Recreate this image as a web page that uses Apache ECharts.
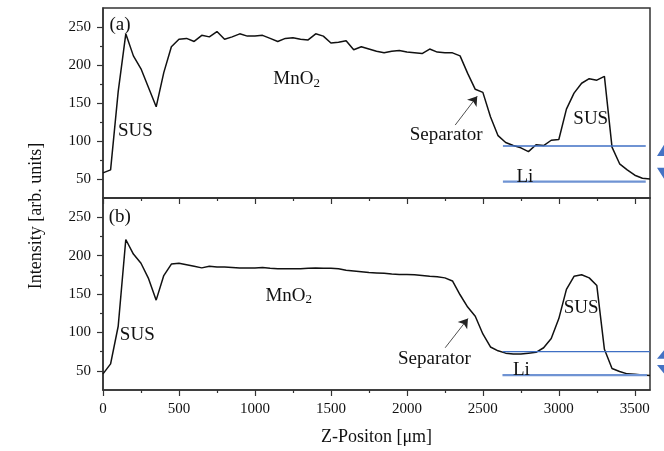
<!DOCTYPE html>
<html>
<head>
<meta charset="utf-8">
<script src="https://cdn.jsdelivr.net/npm/echarts@6/dist/echarts.min.js"></script>
<style>
  html, body { margin: 0; padding: 0; background: #fff; }
  #main { width: 664px; height: 451px; }
</style>
</head>
<body>
<div id="main"></div>
<script>
// depth positions (um)
var zPos = [0, 50, 100, 150, 200, 250, 300, 350, 400, 450, 500, 550, 600, 650, 700, 750, 800, 850, 900, 950,
  1000, 1050, 1100, 1150, 1200, 1250, 1300, 1350, 1400, 1450, 1500, 1550, 1600, 1650, 1700, 1750, 1800, 1850, 1900, 1950,
  2000, 2050, 2100, 2150, 2200, 2250, 2300, 2350, 2400, 2450, 2500, 2550, 2600, 2650, 2700, 2750, 2800, 2850, 2900, 2950,
  3000, 3050, 3100, 3150, 3200, 3250, 3300, 3350, 3400, 3450, 3500, 3550, 3600];

// panel (a)
var intensityA = [58, 62, 165, 241, 212, 195, 170, 145, 190, 224, 234, 235, 231, 239, 237, 244, 234, 237, 241, 238,
  238, 239, 235, 231, 235, 236, 234, 233, 241, 238, 229, 230, 232, 220, 224, 221, 218, 216, 218, 219,
  217, 216, 215, 221, 217, 216, 216, 212, 189, 168, 164, 132, 107, 98, 94, 91, 86, 95, 94, 101,
  102, 142, 163, 176, 182, 180, 185, 92, 70, 62, 55, 51, 50];

// panel (b)
var intensityB = [46, 59, 108, 221, 202, 190, 170, 142, 174, 189, 190, 188, 186, 184, 186, 185, 185, 184.5, 184, 184,
  184, 184.5, 183.5, 183, 183, 183, 183, 183.5, 184, 183.5, 183.5, 183, 181, 180, 179, 178, 177.5, 177, 176, 175.5,
  175.5, 175, 174, 173, 172.5, 171, 167, 149, 133, 121, 98, 81, 76, 73, 72, 72, 73, 74, 80, 92,
  118, 156, 173, 175, 171, 161, 78, 53, 49, 46, 45.5, 44.5, 44];

var xMajor = [0, 500, 1000, 1500, 2000, 2500, 3000, 3500];
var xMinor = [250, 750, 1250, 1750, 2250, 2750, 3250];
var yMajor = [50, 100, 150, 200, 250];
var yMinor = [75, 125, 175, 225];

// blue reference lines: [xStart, xEnd, level]
var liLinesA = [[2632, 3572, 93.4], [2632, 3572, 46.5]];
var liLinesB = [[2632, 3600, 75], [2629, 3580, 44.4]];

// text notes: [text, x, y, align]
var notesA = [['(a)', 42, 252, 'left'], ['SUS', 98, 112.6, 'left'], ['{m|MnO}{s|2}', 1121, 181, 'left'],
  ['Separator', 2258, 107.4, 'center'], ['SUS', 3210, 129, 'center'], ['Li', 2777, 52, 'center']];
var notesB = [['(b)', 38, 250.4, 'left'], ['SUS', 111, 96.8, 'left'], ['{m|MnO}{s|2}', 1069, 148, 'left'],
  ['Separator', 2181, 65.4, 'center'], ['SUS', 3147, 132, 'center'], ['Li', 2754, 51, 'center']];

var arrowA = [[2318, 121], [2463, 159]];
var arrowB = [[2252, 80], [2402, 118]];

var FONT = "'Liberation Serif', 'Times New Roman', serif";
var INK = '#111';
var AX = '#333';

function pairs(xs, ys) {
  var out = [];
  for (var i = 0; i < xs.length; i++) out.push([xs[i], ys[i]]);
  return out;
}

function xAxisPair(gridIndex, withLabels) {
  var main = {
    type: 'value', gridIndex: gridIndex, min: 0, max: 3600, position: 'bottom',
    splitLine: { show: false },
    axisLine: { onZero: false, lineStyle: { color: AX, width: 1.5 } },
    axisTick: { show: true, inside: false, length: 6, customValues: xMajor, lineStyle: { color: AX, width: 1.2 } },
    axisLabel: { show: withLabels, customValues: xMajor, margin: 12, color: INK, fontFamily: FONT, fontSize: 15,
      formatter: function (v) { return String(v); } }
  };
  var minor = {
    type: 'value', gridIndex: gridIndex, min: 0, max: 3600, position: 'bottom', offset: 0,
    splitLine: { show: false },
    axisLine: { show: false, onZero: false },
    axisTick: { show: true, length: 3, customValues: xMinor, lineStyle: { color: AX, width: 1.2 } },
    axisLabel: { show: false }
  };
  return [main, minor];
}

function yAxisPair(gridIndex) {
  var main = {
    type: 'value', gridIndex: gridIndex, min: 25, max: 275, position: 'left',
    splitLine: { show: false },
    axisLine: { onZero: false, lineStyle: { color: AX, width: 1.5 } },
    axisTick: { show: true, length: 6, customValues: yMajor, lineStyle: { color: AX, width: 1.2 } },
    axisLabel: { customValues: yMajor, margin: 12, color: INK, fontFamily: FONT, fontSize: 15 }
  };
  var minor = {
    type: 'value', gridIndex: gridIndex, min: 25, max: 275, position: 'left', offset: 0,
    splitLine: { show: false },
    axisLine: { show: false, onZero: false },
    axisTick: { show: true, length: 3, customValues: yMinor, lineStyle: { color: AX, width: 1.2 } },
    axisLabel: { show: false }
  };
  return [main, minor];
}

function noteSeries(notes, arrow, xi, yi) {
  return {
    type: 'scatter', xAxisIndex: xi, yAxisIndex: yi, symbolSize: 1,
    itemStyle: { color: 'rgba(0,0,0,0)' }, silent: true, z: 5,
    data: notes.map(function (n) {
      return { name: n[0], value: [n[1], n[2]], label: { align: n[3] } };
    }),
    label: {
      show: true, position: 'inside', verticalAlign: 'middle', formatter: '{b}',
      color: INK, fontFamily: FONT, fontSize: 19, textBorderWidth: 0, opacity: 1,
      rich: {
        m: { fontFamily: FONT, fontSize: 19, color: INK, lineHeight: 21, textBorderWidth: 0 },
        s: { fontFamily: FONT, fontSize: 13, color: INK, lineHeight: 12, verticalAlign: 'bottom', textBorderWidth: 0 }
      }
    },
    labelLayout: { hideOverlap: false },
    markLine: {
      silent: true, symbol: ['none', 'arrow'], symbolSize: 9,
      label: { show: false },
      lineStyle: { color: '#222', width: 0.8, type: 'solid' },
      data: [[{ coord: arrow[0] }, { coord: arrow[1] }]]
    }
  };
}

function blueSeries(lines, xi, yi) {
  return lines.map(function (l, k) {
    return {
      type: 'line', xAxisIndex: xi, yAxisIndex: yi, symbol: 'none', silent: true, z: 4,
      lineStyle: { color: k === 0 ? '#3f6fc4' : '#6f93d3', width: k === 0 ? 1.3 : 2.4 },
      data: [[l[0], l[2]], [l[1], l[2]]]
    };
  });
}

var xa = xAxisPair(0, false);
var xb = xAxisPair(1, true);
xb[0].name = 'Z-Positon [μm]';
xb[0].nameLocation = 'middle';
xb[0].nameGap = 38;
xb[0].nameTextStyle = { color: INK, fontFamily: FONT, fontSize: 18 };

var option = {
  animation: false,
  backgroundColor: '#fff',
  grid: [
    { left: 103, top: 8, width: 547, height: 190, show: true, borderColor: AX, borderWidth: 1.5 },
    { left: 103, top: 198, width: 547, height: 192, show: true, borderColor: AX, borderWidth: 1.5 }
  ],
  xAxis: xa.concat(xb),
  yAxis: yAxisPair(0).concat(yAxisPair(1)),
  series: [
    { type: 'line', xAxisIndex: 0, yAxisIndex: 0, symbol: 'none', z: 3,
      lineStyle: { color: '#111', width: 1.5 }, data: pairs(zPos, intensityA) },
    { type: 'line', xAxisIndex: 2, yAxisIndex: 2, symbol: 'none', z: 3,
      lineStyle: { color: '#111', width: 1.5 }, data: pairs(zPos, intensityB) },
    noteSeries(notesA, arrowA, 0, 0),
    noteSeries(notesB, arrowB, 2, 2)
  ].concat(blueSeries(liLinesA, 0, 0)).concat(blueSeries(liLinesB, 2, 2))
};

var chart = echarts.init(document.getElementById('main'), null, { renderer: 'canvas' });
chart.setOption(option);

// y title spanning both panels, and the blue double arrows at the right edge
function dblArrow(yTop, yBot) {
  var cx = 667, hw = 10, sw = 2.5, head = Math.min(16, (yBot - yTop) * 0.4);
  return {
    type: 'polygon', silent: true,
    shape: { points: [
      [cx, yTop], [cx - hw, yTop + head], [cx - sw, yTop + head], [cx - sw, yBot - head],
      [cx - hw, yBot - head], [cx, yBot], [cx + hw, yBot - head], [cx + sw, yBot - head],
      [cx + sw, yTop + head], [cx + hw, yTop + head]
    ] },
    style: { fill: '#4472C4' }
  };
}
var ya1 = chart.convertToPixel({ yAxisIndex: 0 }, liLinesA[0][2]);
var ya2 = chart.convertToPixel({ yAxisIndex: 0 }, liLinesA[1][2]);
var yb1 = chart.convertToPixel({ yAxisIndex: 2 }, liLinesB[0][2]);
var yb2 = chart.convertToPixel({ yAxisIndex: 2 }, liLinesB[1][2]);

chart.setOption({
  graphic: [
    {
      type: 'text', x: 36, y: 216, rotation: Math.PI / 2, silent: true,
      style: { text: 'Intensity [arb. units]', fill: INK, font: '18px ' + FONT, textAlign: 'center', textVerticalAlign: 'middle' }
    },
    dblArrow(ya1 - 6, ya2 + 2),
    dblArrow(yb1 - 5, yb2 + 2)
  ]
});
</script>
</body>
</html>
